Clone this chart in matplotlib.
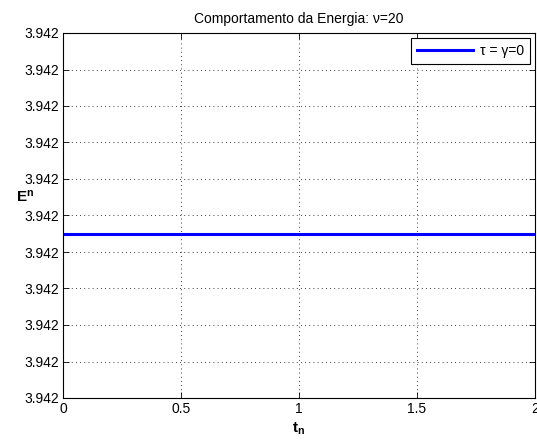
import matplotlib
matplotlib.use("Agg")
import matplotlib.pyplot as plt
from matplotlib.ticker import FormatStrFormatter, MultipleLocator

t_vals = [0.0, 0.25, 0.5, 0.75, 1.0, 1.25, 1.5, 1.75, 2.0]
E_vals = [3.94205045, 3.94205045, 3.94205045, 3.94205045, 3.94205045,
          3.94205045, 3.94205045, 3.94205045, 3.94205045]
x_ticks = [0, 0.5, 1, 1.5, 2]
y_lim = (3.9420500, 3.9420510)
title = "Comportamento da Energia: \u03bd=20"
legend_label = "\u03c4 = \u03b3=0"

plt.rcParams['font.family'] = ['Liberation Sans', 'DejaVu Sans']
plt.rcParams['mathtext.fontset'] = 'custom'
plt.rcParams['mathtext.bf'] = 'Liberation Sans:bold'
plt.rcParams['mathtext.rm'] = 'Liberation Sans'

fig = plt.figure(figsize=(5.37, 4.47), dpi=100)
ax = fig.add_axes([63/537, 49/447, 472/537, 365/447])
ax.plot(t_vals, E_vals, color='#0000ff', lw=2.2, label=legend_label)
ax.set_xlim(0, 2)
ax.set_ylim(*y_lim)
ax.set_xticks(x_ticks)
ax.xaxis.set_major_formatter(FormatStrFormatter('%g'))
ax.yaxis.set_major_locator(MultipleLocator(1e-7))
ax.yaxis.set_major_formatter(FormatStrFormatter('%.3f'))
ax.grid(True, color='black', linestyle=(0, (1, 4)), linewidth=0.6)
ax.tick_params(direction='in', top=True, right=True, labelsize=10, length=4, width=0.6, pad=3)
for s in ax.spines.values():
    s.set_linewidth(0.8)
ax.set_title(title, fontsize=10, pad=7)
ax.set_xlabel(r'$\mathbf{t_n}$', fontsize=11, labelpad=3)
ax.set_ylabel(r'$\mathbf{E^n}$', fontsize=11, rotation=0)
ax.yaxis.set_label_coords(-0.08, 0.53)
leg = ax.legend(loc='upper right', fontsize=10, fancybox=False, framealpha=1,
                edgecolor='black', handlelength=4.0, borderaxespad=0.35,
                borderpad=0.45, handletextpad=0.5)
leg.get_frame().set_linewidth(0.8)
fig.savefig('out.png', dpi=100)
